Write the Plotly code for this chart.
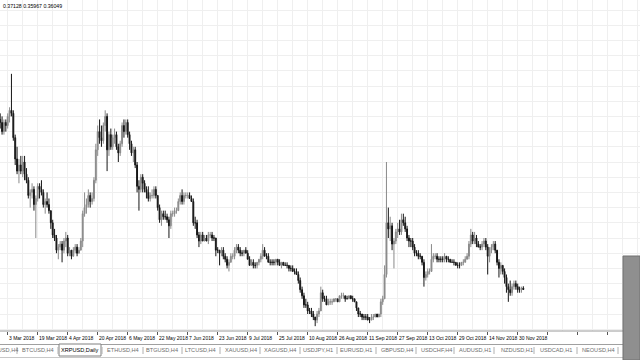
import pandas as pd
import plotly.graph_objects as go

# ---------------- data (XRPUSD, Daily) ----------------
start_date = "2018-02-27"

open_ = [
    0.92, 0.91,
    0.88, 0.91, 0.90, 0.93, 0.95, 0.94, 0.86, 0.79, 0.75, 0.77,
    0.75, 0.78, 0.74, 0.72, 0.67, 0.68, 0.69, 0.64, 0.66, 0.70,
    0.69, 0.68, 0.64, 0.65, 0.64, 0.62, 0.58, 0.54, 0.53, 0.49, 0.50,
    0.51, 0.49, 0.52, 0.53, 0.48, 0.49, 0.47, 0.49, 0.50, 0.48,
    0.49, 0.52, 0.61, 0.63, 0.64, 0.67, 0.65, 0.66, 0.72, 0.82,
    0.88, 0.86, 0.85, 0.90, 0.93, 0.82, 0.87, 0.83, 0.86, 0.87,
    0.83, 0.81, 0.84, 0.90, 0.88, 0.91, 0.87, 0.84, 0.81, 0.82,
    0.77, 0.70, 0.69, 0.73, 0.71, 0.69, 0.68, 0.66, 0.67, 0.67,
    0.69, 0.67, 0.63, 0.59, 0.61, 0.60, 0.60, 0.59, 0.57, 0.61, 0.61,
    0.62, 0.62, 0.65, 0.67, 0.65, 0.67, 0.67, 0.67, 0.66, 0.65,
    0.58, 0.58, 0.54, 0.52, 0.54, 0.52, 0.53, 0.52, 0.54, 0.54,
    0.53, 0.53, 0.49, 0.49, 0.48, 0.49, 0.47, 0.46, 0.44, 0.45,
    0.47, 0.47, 0.49, 0.50, 0.49, 0.48, 0.48, 0.49, 0.48, 0.46,
    0.44, 0.45, 0.44, 0.44, 0.45, 0.46, 0.47, 0.49, 0.47, 0.47,
    0.45, 0.45, 0.45, 0.45, 0.46, 0.45, 0.44, 0.45, 0.44, 0.44, 0.44,
    0.43, 0.43, 0.42, 0.42, 0.41, 0.39, 0.36, 0.34, 0.31, 0.31,
    0.29, 0.29, 0.28, 0.27, 0.26, 0.28, 0.29, 0.35, 0.33, 0.33,
    0.31, 0.32, 0.32, 0.32, 0.33, 0.33, 0.32, 0.34, 0.34, 0.34, 0.33,
    0.33, 0.34, 0.33, 0.33, 0.32, 0.30, 0.28, 0.28, 0.27, 0.27,
    0.27, 0.26, 0.26, 0.27, 0.27, 0.28, 0.27, 0.28, 0.32, 0.33,
    0.41, 0.58, 0.56, 0.57, 0.51, 0.52, 0.55, 0.56, 0.55, 0.59,
    0.58, 0.56, 0.53, 0.52, 0.52, 0.50, 0.48, 0.48, 0.47, 0.47,
    0.45, 0.40, 0.41, 0.42, 0.42, 0.46, 0.47, 0.47, 0.46, 0.46,
    0.46, 0.46, 0.47, 0.46, 0.46, 0.45, 0.45, 0.45, 0.44, 0.44, 0.44,
    0.45, 0.45, 0.46, 0.47, 0.51, 0.54, 0.52, 0.53, 0.51, 0.50,
    0.50, 0.51, 0.52, 0.50, 0.47, 0.49, 0.50, 0.51, 0.49, 0.45,
    0.43, 0.44, 0.42, 0.40, 0.37, 0.36, 0.35, 0.37, 0.38, 0.37,
    0.36, 0.36, 0.365,
]
high_ = [
    0.94, 0.93,
    0.92, 0.92, 0.94, 0.96, 1.07, 0.95, 0.87, 0.83, 0.79, 0.80,
    0.80, 0.80, 0.76, 0.73, 0.69, 0.71, 0.70, 0.67, 0.71, 0.71,
    0.72, 0.69, 0.66, 0.68, 0.66, 0.62, 0.59, 0.56, 0.54, 0.51, 0.52,
    0.52, 0.53, 0.55, 0.54, 0.50, 0.49, 0.50, 0.51, 0.51, 0.50,
    0.53, 0.62, 0.68, 0.66, 0.69, 0.68, 0.68, 0.73, 0.84, 0.90,
    0.92, 0.90, 0.91, 0.95, 0.94, 0.88, 0.89, 0.87, 0.89, 0.88,
    0.84, 0.85, 0.91, 0.92, 0.92, 0.92, 0.88, 0.85, 0.83, 0.83,
    0.78, 0.72, 0.74, 0.74, 0.72, 0.70, 0.70, 0.68, 0.69, 0.70,
    0.70, 0.67, 0.64, 0.62, 0.62, 0.62, 0.61, 0.60, 0.62, 0.62, 0.63,
    0.63, 0.66, 0.68, 0.69, 0.68, 0.68, 0.68, 0.68, 0.67, 0.66,
    0.60, 0.59, 0.55, 0.55, 0.55, 0.54, 0.54, 0.55, 0.55, 0.55,
    0.54, 0.53, 0.50, 0.49, 0.50, 0.50, 0.48, 0.47, 0.46, 0.48,
    0.48, 0.50, 0.51, 0.51, 0.50, 0.49, 0.49, 0.50, 0.49, 0.47,
    0.46, 0.46, 0.45, 0.45, 0.46, 0.48, 0.51, 0.50, 0.48, 0.48,
    0.46, 0.46, 0.46, 0.46, 0.46, 0.46, 0.45, 0.45, 0.45, 0.45, 0.44,
    0.44, 0.44, 0.43, 0.43, 0.42, 0.40, 0.37, 0.35, 0.33, 0.32,
    0.30, 0.30, 0.29, 0.27, 0.29, 0.30, 0.37, 0.36, 0.34, 0.34,
    0.33, 0.33, 0.33, 0.33, 0.33, 0.33, 0.34, 0.35, 0.35, 0.34, 0.34,
    0.34, 0.34, 0.34, 0.33, 0.32, 0.30, 0.29, 0.28, 0.28, 0.28,
    0.28, 0.27, 0.28, 0.28, 0.28, 0.28, 0.28, 0.33, 0.34, 0.44,
    0.78, 0.63, 0.60, 0.58, 0.53, 0.56, 0.58, 0.59, 0.61, 0.61,
    0.60, 0.57, 0.54, 0.53, 0.53, 0.51, 0.49, 0.49, 0.48, 0.47,
    0.46, 0.42, 0.43, 0.43, 0.51, 0.48, 0.48, 0.48, 0.47, 0.47,
    0.47, 0.48, 0.47, 0.47, 0.46, 0.46, 0.46, 0.45, 0.45, 0.45, 0.45,
    0.46, 0.47, 0.48, 0.52, 0.56, 0.55, 0.55, 0.54, 0.52, 0.51,
    0.52, 0.53, 0.53, 0.51, 0.50, 0.51, 0.52, 0.52, 0.49, 0.46,
    0.45, 0.44, 0.43, 0.41, 0.38, 0.39, 0.38, 0.39, 0.39, 0.38,
    0.37, 0.37, 0.37128,
]
low_ = [
    0.89, 0.87,
    0.87, 0.88, 0.89, 0.91, 0.93, 0.85, 0.77, 0.74, 0.71, 0.74,
    0.73, 0.72, 0.71, 0.66, 0.63, 0.66, 0.62, 0.53, 0.65, 0.66,
    0.67, 0.63, 0.61, 0.63, 0.61, 0.56, 0.53, 0.52, 0.48, 0.46, 0.49,
    0.45, 0.48, 0.50, 0.47, 0.47, 0.46, 0.47, 0.48, 0.47, 0.48,
    0.49, 0.50, 0.60, 0.61, 0.63, 0.63, 0.64, 0.65, 0.71, 0.80,
    0.84, 0.83, 0.84, 0.88, 0.75, 0.80, 0.82, 0.82, 0.84, 0.82,
    0.78, 0.80, 0.83, 0.86, 0.87, 0.86, 0.82, 0.80, 0.78, 0.76,
    0.68, 0.62, 0.68, 0.68, 0.68, 0.66, 0.65, 0.65, 0.66, 0.66,
    0.66, 0.62, 0.58, 0.57, 0.59, 0.59, 0.58, 0.53, 0.56, 0.60, 0.60,
    0.61, 0.62, 0.64, 0.64, 0.64, 0.66, 0.66, 0.66, 0.65, 0.57,
    0.56, 0.53, 0.50, 0.51, 0.52, 0.52, 0.52, 0.51, 0.53, 0.52,
    0.52, 0.47, 0.48, 0.44, 0.47, 0.46, 0.45, 0.43, 0.42, 0.45,
    0.46, 0.46, 0.48, 0.48, 0.47, 0.47, 0.47, 0.48, 0.46, 0.44,
    0.44, 0.43, 0.43, 0.43, 0.44, 0.45, 0.46, 0.47, 0.46, 0.45,
    0.44, 0.44, 0.44, 0.44, 0.44, 0.44, 0.43, 0.44, 0.44, 0.43, 0.42,
    0.42, 0.42, 0.41, 0.41, 0.38, 0.35, 0.33, 0.30, 0.30, 0.28,
    0.28, 0.27, 0.26, 0.24, 0.25, 0.27, 0.29, 0.32, 0.32, 0.31,
    0.31, 0.31, 0.31, 0.32, 0.32, 0.32, 0.32, 0.33, 0.33, 0.32, 0.33,
    0.33, 0.33, 0.32, 0.32, 0.29, 0.27, 0.27, 0.26, 0.26, 0.26,
    0.26, 0.25, 0.26, 0.26, 0.27, 0.27, 0.27, 0.27, 0.31, 0.33,
    0.40, 0.53, 0.52, 0.49, 0.43, 0.51, 0.53, 0.54, 0.54, 0.57,
    0.55, 0.52, 0.50, 0.50, 0.49, 0.47, 0.47, 0.46, 0.46, 0.44,
    0.37, 0.39, 0.40, 0.41, 0.42, 0.45, 0.46, 0.45, 0.45, 0.45,
    0.45, 0.45, 0.45, 0.45, 0.45, 0.45, 0.44, 0.44, 0.43, 0.43, 0.44,
    0.44, 0.45, 0.46, 0.46, 0.50, 0.51, 0.51, 0.50, 0.50, 0.49,
    0.49, 0.50, 0.49, 0.41, 0.45, 0.48, 0.49, 0.48, 0.44, 0.40,
    0.41, 0.41, 0.38, 0.35, 0.32, 0.34, 0.34, 0.36, 0.36, 0.35,
    0.35, 0.35, 0.35967,
]
close_ = [
    0.91, 0.88,
    0.91, 0.90, 0.93, 0.95, 0.94, 0.86, 0.79, 0.75, 0.77, 0.75,
    0.78, 0.74, 0.72, 0.67, 0.68, 0.69, 0.64, 0.66, 0.70, 0.69,
    0.68, 0.64, 0.65, 0.64, 0.62, 0.58, 0.54, 0.53, 0.49, 0.50, 0.51,
    0.49, 0.52, 0.53, 0.48, 0.49, 0.47, 0.49, 0.50, 0.48, 0.49,
    0.52, 0.61, 0.63, 0.64, 0.67, 0.65, 0.66, 0.72, 0.82, 0.88,
    0.86, 0.85, 0.90, 0.93, 0.82, 0.87, 0.83, 0.86, 0.87, 0.83,
    0.81, 0.84, 0.90, 0.88, 0.91, 0.87, 0.84, 0.81, 0.82, 0.77,
    0.70, 0.69, 0.73, 0.71, 0.69, 0.68, 0.66, 0.67, 0.67, 0.69,
    0.67, 0.63, 0.59, 0.61, 0.60, 0.60, 0.59, 0.57, 0.61, 0.61, 0.62,
    0.62, 0.65, 0.67, 0.65, 0.67, 0.67, 0.67, 0.66, 0.65, 0.58,
    0.58, 0.54, 0.52, 0.54, 0.52, 0.53, 0.52, 0.54, 0.54, 0.53,
    0.53, 0.49, 0.49, 0.48, 0.49, 0.47, 0.46, 0.44, 0.45, 0.47,
    0.47, 0.49, 0.50, 0.49, 0.48, 0.48, 0.49, 0.48, 0.46, 0.44,
    0.45, 0.44, 0.44, 0.45, 0.46, 0.47, 0.49, 0.47, 0.47, 0.45,
    0.45, 0.45, 0.45, 0.46, 0.45, 0.44, 0.45, 0.44, 0.44, 0.44, 0.43,
    0.43, 0.42, 0.42, 0.41, 0.39, 0.36, 0.34, 0.31, 0.31, 0.29,
    0.29, 0.28, 0.27, 0.26, 0.28, 0.29, 0.35, 0.33, 0.33, 0.31,
    0.32, 0.32, 0.32, 0.33, 0.33, 0.32, 0.34, 0.34, 0.34, 0.33, 0.33,
    0.34, 0.33, 0.33, 0.32, 0.30, 0.28, 0.28, 0.27, 0.27, 0.27,
    0.26, 0.26, 0.27, 0.27, 0.28, 0.27, 0.28, 0.32, 0.33, 0.41,
    0.58, 0.56, 0.57, 0.51, 0.52, 0.55, 0.56, 0.55, 0.59, 0.58,
    0.56, 0.53, 0.52, 0.52, 0.50, 0.48, 0.48, 0.47, 0.47, 0.45,
    0.40, 0.41, 0.42, 0.42, 0.46, 0.47, 0.47, 0.46, 0.46, 0.46,
    0.46, 0.47, 0.46, 0.46, 0.45, 0.45, 0.45, 0.44, 0.44, 0.44, 0.45,
    0.45, 0.46, 0.47, 0.51, 0.54, 0.52, 0.53, 0.51, 0.50, 0.50,
    0.51, 0.52, 0.50, 0.47, 0.49, 0.50, 0.51, 0.49, 0.45, 0.43,
    0.44, 0.42, 0.40, 0.37, 0.36, 0.35, 0.37, 0.38, 0.37, 0.36,
    0.36, 0.365, 0.36049,
]

date_labels = ["3 Mar 2018", "19 Mar 2018", "4 Apr 2018", "20 Apr 2018",
               "6 May 2018", "22 May 2018", "7 Jun 2018", "23 Jun 2018",
               "9 Jul 2018", "25 Jul 2018", "10 Aug 2018", "26 Aug 2018",
               "11 Sep 2018", "27 Sep 2018", "13 Oct 2018", "29 Oct 2018",
               "14 Nov 2018", "30 Nov 2018"]

tab_labels = ["EURUSD,H4", "BTCUSD,H4", "XRPUSD,Daily", "ETHUSD,H4", "BTGUSD,H4",
              "LTCUSD,H4", "XAUUSD,H4", "XAGUSD,H4", "USDJPY,H1", "EURUSD,H1",
              "GBPUSD,H4", "USDCHF,H4", "AUDUSD,H1", "NZDUSD,H1", "USDCAD,H1",
              "NEOUSD,H4"]
active_tab = "XRPUSD,Daily"
header_text = "0.37128 0.35967 0.36049"

# ---------------- layout helpers ----------------
W, H = 640, 360
n = len(close_)
assert len(open_) == n and len(high_) == n and len(low_) == n
dates = pd.date_range(start_date, periods=n, freq="D")

px_per_day = 1.875
anchor = pd.Timestamp("2018-03-03")
anchor_px = 7.7
x0 = anchor - pd.Timedelta(days=anchor_px / px_per_day)
x1 = anchor + pd.Timedelta(days=(W - anchor_px) / px_per_day)

plot_bottom = 331
y_top_price = 1.3129
px_per_unit = 304.0
y_bot_price = y_top_price - plot_bottom / px_per_unit


def fx(px):
    return px / W


def fy(py):
    return 1 - py / H


fig = go.Figure()
fig.add_trace(go.Candlestick(
    x=dates, open=open_, high=high_, low=low_, close=close_,
    increasing=dict(line=dict(color="#8a8a8a", width=1), fillcolor="#8a8a8a"),
    decreasing=dict(line=dict(color="#161616", width=1), fillcolor="#161616"),
    whiskerwidth=0, showlegend=False, hoverinfo="skip",
))

label_dates = [anchor + pd.Timedelta(days=16 * i) for i in range(len(date_labels))]
grid_major = [anchor + pd.Timedelta(days=16 * i) for i in range(-1, 22)]

GRID = "#efefef"
fig.update_layout(
    width=W, height=H,
    margin=dict(l=0, r=0, t=0, b=0),
    paper_bgcolor="white", plot_bgcolor="white",
    font=dict(family="Liberation Sans, Arial, sans-serif", size=6, color="#000"),
    xaxis=dict(
        type="date", range=[x0, x1], domain=[0, 1],
        rangeslider=dict(visible=False),
        tickvals=grid_major, showticklabels=False,
        ticks="outside", ticklen=3, tickcolor="#555", tickwidth=1,
        showgrid=True, gridcolor=GRID, gridwidth=1,
        minor=dict(dtick=8 * 86400000, tick0="2018-03-03", showgrid=True,
                   gridcolor=GRID, gridwidth=1, ticks=""),
        zeroline=False, showline=False,
    ),
    yaxis=dict(
        range=[y_bot_price, y_top_price], domain=[1 - plot_bottom / H, 1],
        dtick=0.05, tick0=0.03, showticklabels=False,
        showgrid=True, gridcolor=GRID, gridwidth=1,
        zeroline=False, showline=False, ticks="",
    ),
)

shapes = []
annotations = []

# chart bottom frame line
shapes.append(dict(type="line", xref="paper", yref="paper",
                   x0=0, x1=fx(623), y0=fy(plot_bottom), y1=fy(plot_bottom),
                   line=dict(color="#9a9a9a", width=1)))

# date labels (left aligned at tick)
for d, t in zip(label_dates, date_labels):
    annotations.append(dict(x=d, xref="x", y=fy(338), yref="paper",
                            text=t, showarrow=False, xanchor="left", yanchor="middle",
                            xshift=-1, font=dict(size=5.0, color="#000")))

# tab bar
shapes.append(dict(type="line", xref="paper", yref="paper",
                   x0=0, x1=1, y0=fy(344.5), y1=fy(344.5),
                   line=dict(color="#a0a0a0", width=1)))
tab_centers = [2, 38, 80, 123, 162, 200, 241, 280, 318, 356, 397, 436, 475, 517, 556, 598]
seps = [17, 58, 102, 143, 182, 220, 260, 300, 337, 376, 416, 454, 494, 534, 577, 618]
for c, t in zip(tab_centers, tab_labels):
    is_active = t == active_tab
    if is_active:
        shapes.append(dict(type="rect", xref="paper", yref="paper",
                           x0=fx(c - 21), x1=fx(c + 21), y0=fy(356), y1=fy(344),
                           fillcolor="white", line=dict(color="#808080", width=1)))
    annotations.append(dict(x=fx(c), xref="paper", y=fy(350), yref="paper",
                            text=t, showarrow=False, xanchor="center", yanchor="middle",
                            font=dict(size=5.6, color="#000" if is_active else "#6e6e6e")))
for s in seps:
    shapes.append(dict(type="line", xref="paper", yref="paper",
                       x0=fx(s), x1=fx(s), y0=fy(347), y1=fy(354),
                       line=dict(color="#b0b0b0", width=1)))

# status bar top line
shapes.append(dict(type="line", xref="paper", yref="paper",
                   x0=0, x1=1, y0=fy(357.5), y1=fy(357.5),
                   line=dict(color="#c8c8c8", width=1)))

# grey panel at right
shapes.append(dict(type="rect", xref="paper", yref="paper",
                   x0=fx(623), x1=1, y0=0, y1=fy(256),
                   fillcolor="#8f8f8f", line=dict(color="#707070", width=1)))

# header
annotations.append(dict(x=fx(1), xref="paper", y=fy(0.5), yref="paper",
                        text=header_text, showarrow=False, xanchor="left", yanchor="top",
                        font=dict(size=5.2, color="#000")))

fig.update_layout(shapes=shapes, annotations=annotations)
fig.write_html("out.html")
